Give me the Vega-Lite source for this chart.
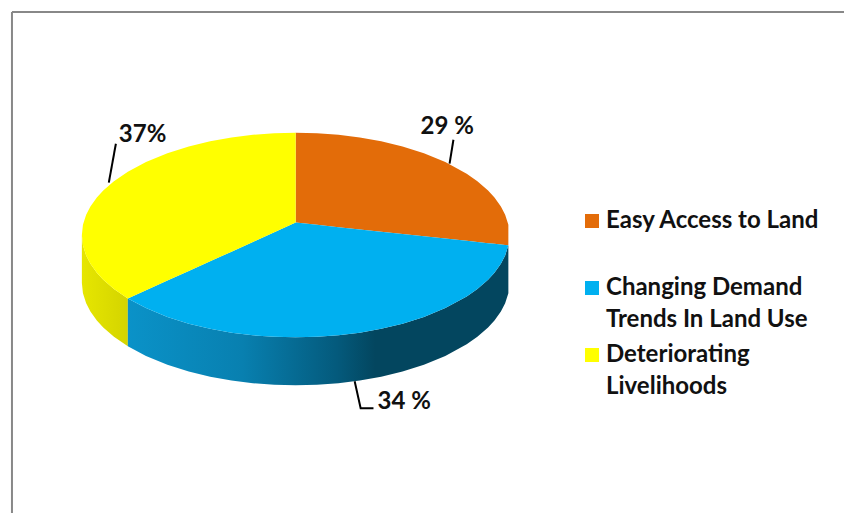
{"$schema":"https://vega.github.io/schema/vega-lite/v6.json","width":845,"height":514,"autosize":{"type":"fit","contains":"padding"},"padding":0,"background":"white","view":{"stroke":null},
"config":{"font":"Lato","style":{"guide-label":{"lineHeight":32}}},
"datasets":{
"faces":[
{"slice":"Easy Access to Land","x":0,"top":1,"bottom":0.122},{"slice":"Easy Access to Land","x":0.1,"top":0.995,"bottom":0.1},{"slice":"Easy Access to Land","x":0.2,"top":0.98,"bottom":0.077},{"slice":"Easy Access to Land","x":0.3,"top":0.954,"bottom":0.055},{"slice":"Easy Access to Land","x":0.4,"top":0.917,"bottom":0.033},{"slice":"Easy Access to Land","x":0.5,"top":0.866,"bottom":0.01},{"slice":"Easy Access to Land","x":0.6,"top":0.8,"bottom":-0.012},{"slice":"Easy Access to Land","x":0.7,"top":0.714,"bottom":-0.034},{"slice":"Easy Access to Land","x":0.8,"top":0.6,"bottom":-0.056},{"slice":"Easy Access to Land","x":0.85,"top":0.527,"bottom":-0.068},{"slice":"Easy Access to Land","x":0.9,"top":0.436,"bottom":-0.079},{"slice":"Easy Access to Land","x":0.93,"top":0.368,"bottom":-0.085},{"slice":"Easy Access to Land","x":0.96,"top":0.28,"bottom":-0.092},{"slice":"Easy Access to Land","x":0.98,"top":0.199,"bottom":-0.097},{"slice":"Easy Access to Land","x":0.995,"top":0.1,"bottom":-0.1},
{"slice":"Changing Demand Trends In Land Use","x":-0.785,"top":-0.62,"bottom":-0.62},{"slice":"Changing Demand Trends In Land Use","x":-0.7,"top":-0.54,"bottom":-0.714},{"slice":"Changing Demand Trends In Land Use","x":-0.6,"top":-0.445,"bottom":-0.8},{"slice":"Changing Demand Trends In Land Use","x":-0.5,"top":-0.351,"bottom":-0.866},{"slice":"Changing Demand Trends In Land Use","x":-0.4,"top":-0.256,"bottom":-0.917},{"slice":"Changing Demand Trends In Land Use","x":-0.3,"top":-0.162,"bottom":-0.954},{"slice":"Changing Demand Trends In Land Use","x":-0.2,"top":-0.067,"bottom":-0.98},{"slice":"Changing Demand Trends In Land Use","x":-0.1,"top":0.028,"bottom":-0.995},{"slice":"Changing Demand Trends In Land Use","x":0,"top":0.122,"bottom":-1},{"slice":"Changing Demand Trends In Land Use","x":0.1,"top":0.1,"bottom":-0.995},{"slice":"Changing Demand Trends In Land Use","x":0.2,"top":0.077,"bottom":-0.98},{"slice":"Changing Demand Trends In Land Use","x":0.3,"top":0.055,"bottom":-0.954},{"slice":"Changing Demand Trends In Land Use","x":0.4,"top":0.033,"bottom":-0.917},{"slice":"Changing Demand Trends In Land Use","x":0.5,"top":0.01,"bottom":-0.866},{"slice":"Changing Demand Trends In Land Use","x":0.6,"top":-0.012,"bottom":-0.8},{"slice":"Changing Demand Trends In Land Use","x":0.7,"top":-0.034,"bottom":-0.714},{"slice":"Changing Demand Trends In Land Use","x":0.8,"top":-0.056,"bottom":-0.6},{"slice":"Changing Demand Trends In Land Use","x":0.85,"top":-0.068,"bottom":-0.527},{"slice":"Changing Demand Trends In Land Use","x":0.9,"top":-0.079,"bottom":-0.436},{"slice":"Changing Demand Trends In Land Use","x":0.93,"top":-0.085,"bottom":-0.368},{"slice":"Changing Demand Trends In Land Use","x":0.96,"top":-0.092,"bottom":-0.28},{"slice":"Changing Demand Trends In Land Use","x":0.98,"top":-0.097,"bottom":-0.199},{"slice":"Changing Demand Trends In Land Use","x":0.995,"top":-0.1,"bottom":-0.1},
{"slice":"Deteriorating Livelihoods","x":-1,"top":0,"bottom":0},{"slice":"Deteriorating Livelihoods","x":-0.995,"top":0.1,"bottom":-0.1},{"slice":"Deteriorating Livelihoods","x":-0.98,"top":0.199,"bottom":-0.199},{"slice":"Deteriorating Livelihoods","x":-0.96,"top":0.28,"bottom":-0.28},{"slice":"Deteriorating Livelihoods","x":-0.93,"top":0.368,"bottom":-0.368},{"slice":"Deteriorating Livelihoods","x":-0.9,"top":0.436,"bottom":-0.436},{"slice":"Deteriorating Livelihoods","x":-0.85,"top":0.527,"bottom":-0.527},{"slice":"Deteriorating Livelihoods","x":-0.785,"top":0.62,"bottom":-0.62},{"slice":"Deteriorating Livelihoods","x":-0.7,"top":0.714,"bottom":-0.54},{"slice":"Deteriorating Livelihoods","x":-0.6,"top":0.8,"bottom":-0.445},{"slice":"Deteriorating Livelihoods","x":-0.5,"top":0.866,"bottom":-0.351},{"slice":"Deteriorating Livelihoods","x":-0.4,"top":0.917,"bottom":-0.256},{"slice":"Deteriorating Livelihoods","x":-0.3,"top":0.954,"bottom":-0.162},{"slice":"Deteriorating Livelihoods","x":-0.2,"top":0.98,"bottom":-0.067},{"slice":"Deteriorating Livelihoods","x":-0.1,"top":0.995,"bottom":0.028},{"slice":"Deteriorating Livelihoods","x":0,"top":1,"bottom":0.122}
],
"wallYellow":[{"x":-1,"top":0,"bottom":-0.468},{"x":-0.995,"top":-0.1,"bottom":-0.568},{"x":-0.98,"top":-0.199,"bottom":-0.667},{"x":-0.96,"top":-0.28,"bottom":-0.748},{"x":-0.93,"top":-0.368,"bottom":-0.836},{"x":-0.9,"top":-0.436,"bottom":-0.904},{"x":-0.85,"top":-0.527,"bottom":-0.995},{"x":-0.785,"top":-0.62,"bottom":-1.088}],
"wallBlue":[{"x":-0.785,"top":-0.62,"bottom":-1.088},{"x":-0.7,"top":-0.714,"bottom":-1.182},{"x":-0.6,"top":-0.8,"bottom":-1.268},{"x":-0.5,"top":-0.866,"bottom":-1.334},{"x":-0.4,"top":-0.917,"bottom":-1.385},{"x":-0.3,"top":-0.954,"bottom":-1.422},{"x":-0.2,"top":-0.98,"bottom":-1.448},{"x":-0.1,"top":-0.995,"bottom":-1.463},{"x":0,"top":-1,"bottom":-1.468},{"x":0.1,"top":-0.995,"bottom":-1.463},{"x":0.2,"top":-0.98,"bottom":-1.448},{"x":0.3,"top":-0.954,"bottom":-1.422},{"x":0.4,"top":-0.917,"bottom":-1.385},{"x":0.5,"top":-0.866,"bottom":-1.334},{"x":0.6,"top":-0.8,"bottom":-1.268},{"x":0.7,"top":-0.714,"bottom":-1.182},{"x":0.8,"top":-0.6,"bottom":-1.068},{"x":0.85,"top":-0.527,"bottom":-0.995},{"x":0.9,"top":-0.436,"bottom":-0.904},{"x":0.93,"top":-0.368,"bottom":-0.836},{"x":0.96,"top":-0.28,"bottom":-0.748},{"x":0.98,"top":-0.199,"bottom":-0.667},{"x":0.995,"top":-0.1,"bottom":-0.568}],
"leaders":[{"slice":"Easy Access to Land","step":0,"x":0.72,"y":0.698},{"slice":"Easy Access to Land","step":1,"x":0.738,"y":0.932},{"slice":"Changing Demand Trends In Land Use","step":0,"x":0.276,"y":-1.429},{"slice":"Changing Demand Trends In Land Use","step":1,"x":0.304,"y":-1.693},{"slice":"Changing Demand Trends In Land Use","step":2,"x":0.364,"y":-1.693},{"slice":"Deteriorating Livelihoods","step":0,"x":-0.874,"y":0.512},{"slice":"Deteriorating Livelihoods","step":1,"x":-0.841,"y":0.893}],
"labels":[{"slice":"Easy Access to Land","value":29,"label":"29 %","x":0.584,"y":1.06},{"slice":"Changing Demand Trends In Land Use","value":34,"label":"34 %","x":0.383,"y":-1.634},{"slice":"Deteriorating Livelihoods","value":37,"label":"37%","x":-0.827,"y":0.98}],
"frame":[{"x":-1.327,"x2":2.565,"y":2.18,"y2":2.18},{"x":-1.327,"x2":-1.327,"y":2.18,"y2":-2.717}]
},
"encoding":{
"x":{"field":"x","type":"quantitative","scale":{"domain":[-1.383,2.565],"nice":false,"zero":false},"axis":null},
"y":{"field":"top","type":"quantitative","scale":{"domain":[-2.717,2.298],"nice":false,"zero":false},"axis":null}
},
"layer":[
{"data":{"name":"frame"},"mark":{"type":"rule","color":"#888888","strokeWidth":2},"encoding":{"y":{"field":"y","type":"quantitative"},"x2":{"field":"x2"},"y2":{"field":"y2"}}},
{"data":{"name":"wallYellow"},"mark":{"type":"area","color":{"x1":0,"y1":0,"x2":1,"y2":0,"gradient":"linear","stops":[{"offset":0,"color":"#e6e600"},{"offset":1,"color":"#d4d400"}]}},"encoding":{"y2":{"field":"bottom"}}},
{"data":{"name":"wallBlue"},"mark":{"type":"area","color":{"x1":0,"y1":0,"x2":1,"y2":0,"gradient":"linear","stops":[{"offset":0,"color":"#0a92c8"},{"offset":0.3,"color":"#0880b0"},{"offset":0.55,"color":"#045a7c"},{"offset":0.65,"color":"#03465f"},{"offset":1,"color":"#03465f"}]}},"encoding":{"y2":{"field":"bottom"}}},
{"data":{"name":"faces"},"mark":{"type":"area"},"encoding":{"y2":{"field":"bottom"},"color":{"field":"slice","type":"nominal","scale":{"domain":["Easy Access to Land","Changing Demand Trends In Land Use","Deteriorating Livelihoods"],"range":["#E36C09","#00B0F0","#FFFF00"]},"legend":{"title":null,"orient":"none","legendX":580,"legendY":209,"symbolType":"square","symbolSize":196,"symbolStrokeWidth":0,"symbolOpacity":1,"labelFont":"Lato","labelFontSize":24,"labelFontWeight":"bold","labelColor":"#111111","labelLimit":300,"labelOffset":2,"rowPadding":11,"padding":0,"labelExpr":"datum.label == 'Easy Access to Land' ? ['Easy Access to Land',' '] : datum.label == 'Changing Demand Trends In Land Use' ? ['Changing Demand','Trends In Land Use'] : ['Deteriorating','Livelihoods']","encoding":{"labels":{"enter":{"lineHeight":{"value":32}},"update":{"baseline":{"value":"alphabetic"},"dy":{"value":9},"lineHeight":{"value":32}}}}}}}},
{"data":{"name":"leaders"},"mark":{"type":"line","color":"#000000","strokeWidth":2},"encoding":{"y":{"field":"y","type":"quantitative"},"detail":{"field":"slice"},"order":{"field":"step","type":"ordinal"}}},
{"data":{"name":"labels"},"mark":{"type":"text","align":"left","baseline":"middle","font":"Lato","fontSize":24,"fontWeight":"bold","color":"#111111"},"encoding":{"y":{"field":"y","type":"quantitative"},"text":{"field":"label"}}}
]}
